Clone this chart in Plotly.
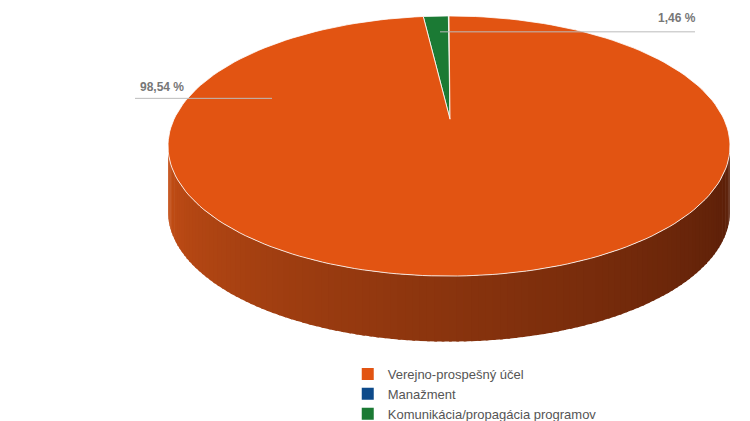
import numpy as np
import plotly.graph_objects as go

categories = ["Verejno-prospešný účel", "Manažment", "Komunikácia/propagácia programov"]
values = [98.54, 0.0, 1.46]
labels = ["98,54 %", "", "1,46 %"]
colors = ["#e25412", "#0d4a8a", "#1b7a34"]

cx, cy, rx, ry, depth = 449, 147, 281, 131, 66
apex = (450, 120)
dx, dy = -8, -8

def pt(t):
    return cx + dx + rx*np.cos(t), cy + dy - ry*np.sin(t)

fig = go.Figure()

n = 120
ts = np.linspace(np.pi, 2*np.pi, n+1)
def lerp(c1, c2, f):
    return "rgb(%d,%d,%d)" % tuple(int(a+(b-a)*f) for a, b in zip(c1, c2))
for i in range(n):
    t0, t1 = ts[i], min(ts[i+1] + 0.01, 2*np.pi)
    x0, y0 = pt(t0); x1, y1 = pt(t1)
    f = i/(n-1)
    col = lerp((200, 80, 22), (88, 30, 8), f**0.85)
    fig.add_trace(go.Scatter(x=[x0, x1, x1, x0, x0], y=[y0, y1, y1+depth, y0+depth, y0],
                             fill="toself", fillcolor=col, line=dict(width=0),
                             mode="lines", hoverinfo="skip", showlegend=False))

total = sum(values)
start = np.pi/2
for k in [2, 1, 0]:
    v = values[k]
    if v <= 0:
        continue
    span = 2*np.pi*v/total
    tt = np.linspace(start, start+span, 200)
    px, py = pt(tt)
    xs = [apex[0]+dx] + list(px) + [apex[0]+dx]
    ys = [apex[1]+dy] + list(py) + [apex[1]+dy]
    fig.add_trace(go.Scatter(x=xs, y=ys, fill="toself", fillcolor=colors[k],
                             line=dict(color="rgba(255,255,255,0.8)", width=1),
                             mode="lines", hoverinfo="skip", showlegend=False))
    start += span

for name, c in zip(categories, colors):
    fig.add_trace(go.Scatter(x=[None], y=[None], mode="markers", name=name,
                             marker=dict(symbol="square", size=11, color=c)))

fig.add_shape(type="line", x0=127, x1=264, y0=91, y1=91, line=dict(color="#bbbbbb", width=1))
fig.add_shape(type="line", x0=432, x1=687, y0=24, y1=24, line=dict(color="#bbbbbb", width=1))
fig.add_annotation(x=154, y=80, text="<b>" + labels[0] + "</b>", showarrow=False,
                   font=dict(color="#777777", size=12, family="Arial"))
fig.add_annotation(x=669, y=10, text="<b>" + labels[2] + "</b>", showarrow=False,
                   font=dict(color="#777777", size=12, family="Arial"))

fig.update_layout(
    width=750, height=421, margin=dict(l=0, r=0, t=0, b=0),
    plot_bgcolor="white", paper_bgcolor="white",
    xaxis=dict(range=[0, 750], visible=False, fixedrange=True),
    yaxis=dict(range=[421, 0], visible=False, fixedrange=True),
    legend=dict(x=0.453, y=0.16, xanchor="left", yanchor="top",
                font=dict(color="#555555", size=13, family="Liberation Sans"),
                tracegroupgap=0, itemsizing="constant"),
)
fig.write_html("out.html")
